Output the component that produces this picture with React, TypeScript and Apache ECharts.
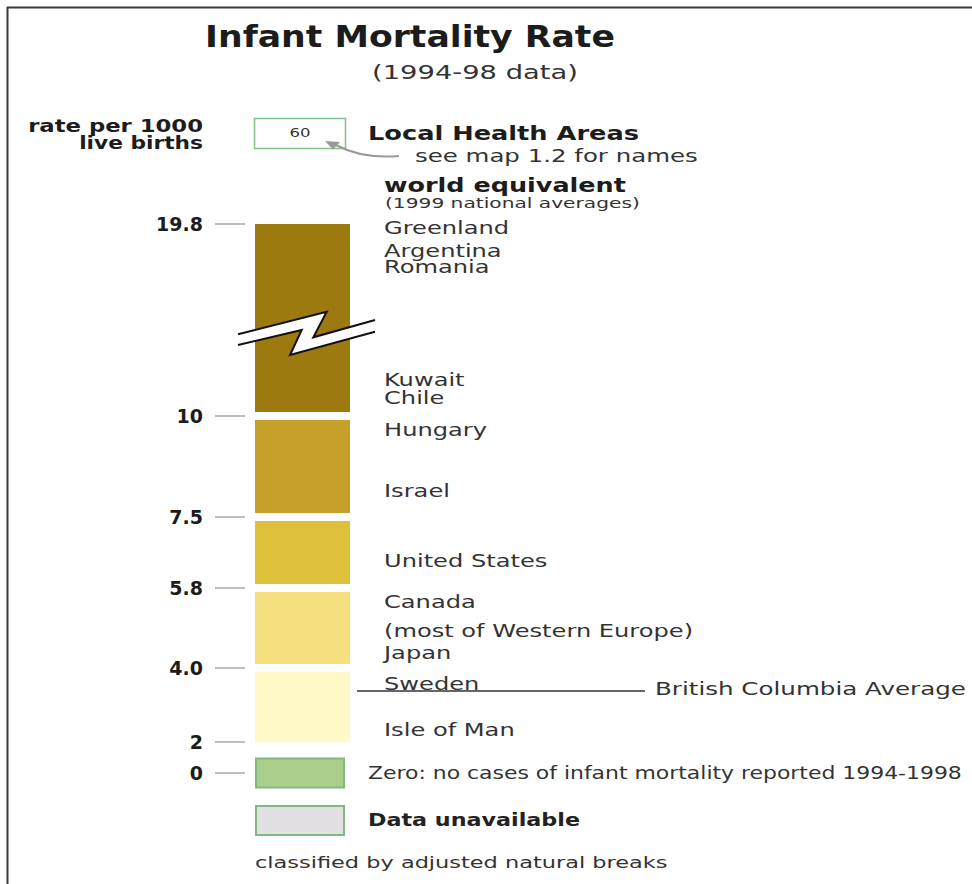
import React, { useEffect, useRef } from 'react';
import * as echarts from 'echarts';

// ---------- data ----------
const breaks = [2, 4, 5.8, 7.5, 10, 19.8];
const breakLabels = ['2', '4.0', '5.8', '7.5', '10', '19.8'];
const bandColors = ['#FEF9C6', '#F6DF7E', '#DEC03B', '#C7A02B', '#9C7A10'];
const countryNames = [
  'Greenland', 'Argentina', 'Romania', 'Kuwait', 'Chile', 'Hungary', 'Israel',
  'United States', 'Canada', '(most of Western Europe)', 'Japan', 'Sweden', 'Isle of Man',
];
const countryRates = [19.6, 18.4, 17.6, 11.8, 10.9, 9.65, 8.14, 6.45, 5.48, 4.83, 4.34, 3.57, 2.32];
const bcAverage = 3.38;
const bcLabel = 'British Columbia Average';
const extraClasses = ['Zero: no cases of infant mortality reported 1994-1998', 'Data unavailable'];
const extraTickLabels = ['0', ''];
const extraColors = ['#ABCF8A', '#E2E0E3'];
const sampleValue = '60';

// ---------- layout / style ----------
const FAMILY = '"DejaVu Sans", "Noto Sans", sans-serif';
const tickPx = [742, 668, 588, 517, 416, 224];
const AXIS_X = 245; // axis line position (ticks end here)
const BAR_PAD = 10; // gap between tick end and bar
const BAR_W = 95;
const GAP = 4;
const TICK_COLOR = '#a8a8a8';
const TEXT = '#333';
const COUNTRY_SX = 1.42;

let measureCtx: CanvasRenderingContext2D | null = null;
function textWidth(text: string, font: string): number {
  if (!measureCtx) measureCtx = document.createElement('canvas').getContext('2d');
  if (!measureCtx) return text.length * 8;
  measureCtx.font = font;
  return measureCtx.measureText(text).width || 1;
}
function fontOf(size: number, bold: boolean) {
  return `${bold ? 'bold ' : ''}${size}px ${FAMILY}`;
}
function txt(
  text: string, x: number, y: number, size: number, bold: boolean,
  target: number | null, align: string, color = TEXT, scale = 1,
): any {
  const font = fontOf(size, bold);
  const sx = target ? target / textWidth(text, font) : scale;
  return {
    type: 'text', x, y, scaleX: sx, z: 100,
    style: {
      text, font, fill: color,
      align, verticalAlign: 'middle', textAlign: align, textVerticalAlign: 'middle',
    },
  };
}
function labelFor(v: number) {
  for (let k = 0; k < breaks.length; k++) if (Math.abs(breaks[k] - v) < 1e-6) return breakLabels[k];
  return '';
}

function buildOption(): any {
  const nBands = breaks.length - 1;
  const grid: any[] = [];
  const xAxis: any[] = [];
  const yAxis: any[] = [];
  const series: any[] = [];
  const axisLabelStyle = {
    color: '#1c1c1c', fontFamily: FAMILY, fontWeight: 'bold', fontSize: 19, margin: 42,
  };
  const tickStyle = { show: true, length: 30, lineStyle: { color: TICK_COLOR, width: 1.5 } };

  for (let i = 0; i < nBands; i++) {
    const lo = breaks[i];
    const hi = breaks[i + 1];
    const isTop = i === nBands - 1;
    const isBottom = i === 0;
    grid.push({
      left: AXIS_X, width: BAR_PAD + BAR_W, top: tickPx[i + 1], height: tickPx[i] - tickPx[i + 1],
      outerBoundsMode: 'none', containLabel: false,
    });
    xAxis.push({ gridIndex: i, type: 'value', min: 0, max: 1, show: false });
    yAxis.push({
      gridIndex: i, type: 'value', min: lo, max: hi, interval: Number((hi - lo).toFixed(4)),
      axisLine: { show: false }, splitLine: { show: false }, axisTick: tickStyle,
      axisLabel: {
        ...axisLabelStyle, showMinLabel: true, showMaxLabel: isTop,
        formatter: (v: number) => labelFor(v),
      },
    });
    const color = bandColors[i];
    series.push({
      type: 'custom', xAxisIndex: i, yAxisIndex: i, silent: true,
      data: [[0, lo, hi]], encode: { x: 0, y: [1, 2] },
      renderItem: (_p: any, api: any) => {
        const a = api.coord([0, api.value(2)]);
        const b = api.coord([1, api.value(1)]);
        let top = a[1];
        let bottom = b[1];
        if (!isTop) top += GAP;
        if (!isBottom) bottom -= GAP;
        return {
          type: 'rect',
          shape: { x: a[0] + BAR_PAD, y: top, width: b[0] - a[0] - BAR_PAD, height: bottom - top },
          style: { fill: color },
        };
      },
    });
    const idxs = countryRates.map((_r, k) => k).filter((k) => countryRates[k] >= lo && countryRates[k] <= hi);
    if (idxs.length) {
      series.push({
        type: 'custom', xAxisIndex: i, yAxisIndex: i, silent: true, z: 5,
        data: idxs.map((k) => [1, countryRates[k]]),
        renderItem: (p: any, api: any) => {
          const k = idxs[p.dataIndex];
          const pt = api.coord([1, api.value(1)]);
          return txt(countryNames[k], pt[0] + 34, pt[1], 17, false, null, 'left', TEXT, COUNTRY_SX);
        },
      });
    }
    if (bcAverage >= lo && bcAverage <= hi) {
      series.push({
        type: 'custom', xAxisIndex: i, yAxisIndex: i, silent: true, z: 5,
        data: [[1, bcAverage]],
        renderItem: (_p: any, api: any) => {
          const pt = api.coord([1, api.value(1)]);
          return {
            type: 'group',
            children: [
              {
                type: 'line',
                shape: { x1: pt[0] + 7, y1: pt[1], x2: pt[0] + 295, y2: pt[1] },
                style: { stroke: '#333', lineWidth: 1.5 },
              },
              txt(bcLabel, pt[0] + 305, pt[1] - 2, 17, false, 311, 'left'),
            ],
          };
        },
      });
    }
  }

  // zero / unavailable classes
  const gi = nBands;
  grid.push({ left: AXIS_X, width: BAR_PAD + 90, top: 749.25, height: 95, outerBoundsMode: 'none', containLabel: false });
  xAxis.push({ gridIndex: gi, type: 'value', min: 0, max: 1, show: false });
  yAxis.push({
    gridIndex: gi, type: 'category', data: extraClasses, inverse: true,
    axisLine: { show: false }, splitLine: { show: false },
    axisTick: { ...tickStyle, alignWithLabel: true, interval: (idx: number) => idx === 0 },
    axisLabel: { ...axisLabelStyle, interval: 0, formatter: (_v: string, idx: number) => extraTickLabels[idx] },
  });
  const extraTargets = [594, 212];
  series.push({
    type: 'custom', xAxisIndex: gi, yAxisIndex: gi, silent: true,
    data: extraClasses.map((_c, k) => [0, k]),
    renderItem: (p: any, api: any) => {
      const k = p.dataIndex;
      const a = api.coord([0, api.value(1)]);
      const b = api.coord([1, api.value(1)]);
      return {
        type: 'group',
        children: [
          {
            type: 'rect',
            shape: { x: a[0] + BAR_PAD + 1, y: a[1] - 14.5, width: b[0] - a[0] - BAR_PAD - 2, height: 29 },
            style: { fill: extraColors[k], stroke: '#82B982', lineWidth: 2 },
          },
          txt(extraClasses[k], b[0] + 23, a[1], 17, k === 1, extraTargets[k], 'left', k === 1 ? '#222' : TEXT),
        ],
      };
    },
  });

  const graphicEls: any[] = [
    { type: 'line', z: 100, shape: { x1: 7, y1: 7.5, x2: 972, y2: 7.5 }, style: { stroke: '#3a3a3a', lineWidth: 2 } },
    { type: 'line', z: 100, shape: { x1: 7.5, y1: 7, x2: 7.5, y2: 884 }, style: { stroke: '#3a3a3a', lineWidth: 2 } },
    txt('Infant Mortality Rate', 410, 37, 30, true, 410, 'center', '#1c1c1c'),
    txt('(1994-98 data)', 475, 73, 19, false, 206, 'center'),
    txt('rate per 1000', 203, 126, 18, true, 175, 'right', '#1c1c1c'),
    txt('live births', 203, 143, 18, true, 124, 'right', '#1c1c1c'),
    {
      type: 'rect', z: 100, shape: { x: 254.5, y: 118.5, width: 91, height: 30 },
      style: { fill: '#fff', stroke: '#86C08C', lineWidth: 1.5 },
    },
    txt(sampleValue, 300, 133, 13, false, 21, 'center'),
    txt('Local Health Areas', 368, 133, 19, true, 271, 'left', '#1c1c1c'),
    txt('see map 1.2 for names', 415, 156, 17, false, 283, 'left'),
    {
      type: 'bezierCurve', z: 100,
      shape: { x1: 399, y1: 156, cpx1: 362, cpy1: 159, x2: 336, y2: 145 },
      style: { stroke: '#9a9a9a', lineWidth: 2, fill: null },
    },
    {
      type: 'polygon', z: 100,
      shape: { points: [[325, 141], [340, 142], [333, 149.5]] },
      style: { fill: '#9a9a9a' },
    },
    txt('world equivalent', 384, 185, 19, true, 242, 'left', '#1c1c1c'),
    txt('(1999 national averages)', 385, 203, 14, false, 255, 'left'),
    txt('classified by adjusted natural breaks', 255, 863, 15, false, 413, 'left'),
    {
      type: 'polygon', z: 101,
      shape: {
        points: [[238, 334.3], [326.7, 311.7], [313.3, 337.3], [375, 320], [375, 331.7], [290, 355], [301.7, 330], [238, 345]],
      },
      style: { fill: '#ffffff' },
    },
    {
      type: 'polyline', z: 102,
      shape: { points: [[238, 334.3], [326.7, 311.7], [313.3, 337.3], [375, 320]] },
      style: { stroke: '#111', lineWidth: 2, fill: null },
    },
    {
      type: 'polyline', z: 102,
      shape: { points: [[238, 345], [301.7, 330], [290, 355], [375, 331.7]] },
      style: { stroke: '#111', lineWidth: 2, fill: null },
    },
  ];

  return {
    animation: false,
    backgroundColor: '#ffffff',
    grid, xAxis, yAxis, series,
    graphic: { elements: graphicEls },
  };
}

export default function App() {
  const ref = useRef<HTMLDivElement>(null);
  useEffect(() => {
    if (!ref.current) return;
    const chart = echarts.init(ref.current, null, { renderer: 'svg' });
    chart.setOption(buildOption());
    return () => chart.dispose();
  }, []);
  return (
    <div
      ref={ref}
      style={{ position: 'absolute', left: 0, top: 0, width: 972, height: 884, background: '#fff' }}
    />
  );
}
